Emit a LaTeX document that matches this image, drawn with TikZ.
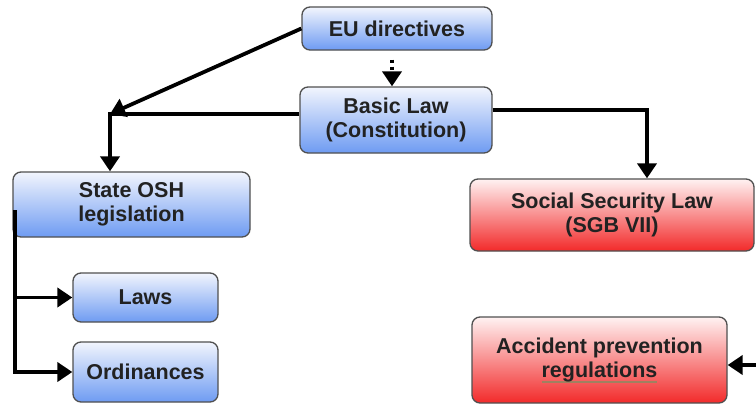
\documentclass[tikz,border=0pt]{standalone}
\usepackage{fontspec}
\setmainfont{Liberation Sans}
\usetikzlibrary{arrows.meta}
\definecolor{txtgray}{HTML}{222222}
\definecolor{boxline}{HTML}{505050}
\definecolor{bluelo}{HTML}{6E9BF2}
\definecolor{bluehi}{HTML}{F2F5FD}
\definecolor{redlo}{HTML}{F22A2A}
\definecolor{redhi}{HTML}{FFF2F2}
\definecolor{ulbrown}{HTML}{A08060}
\newlength\ulwd
\newcommand\spellul[1]{\settowidth\ulwd{#1}\rlap{\color{ulbrown}\rule[-5pt]{\ulwd}{1.3pt}}#1}
\tikzset{>={Triangle[length=15pt 0,width=19pt 0]}}
\tikzset{
  box/.style={draw=boxline, line width=1.3pt, rounded corners=8pt, align=center,
    inner sep=0pt, text=txtgray, font=\fontsize{21.5}{24.5}\selectfont\bfseries},
  bluebox/.style={box, top color=bluehi, bottom color=bluelo},
  redbox/.style={box, top color=redhi, bottom color=redlo},
  link/.style={line width=3.8pt},
  dotlink/.style={line width=3.8pt, dash pattern=on 3.5pt off 3.5pt}
}

\begin{document}
\begin{tikzpicture}[x=1pt,y=-1pt]
\useasboundingbox (0,0) rectangle (756,405);
\node[bluebox, minimum width=190pt, minimum height=43pt] (eu) at (397,28.5) {EU directives};
\node[bluebox, minimum width=192pt, minimum height=66pt] (basic) at (396,120) {Basic Law\\(Constitution)};
\node[bluebox, minimum width=237pt, minimum height=65pt] (state) at (131.5,204.5) {State OSH\\legislation};
\node[bluebox, minimum width=145pt, minimum height=49pt] (laws) at (145.5,297.5) {Laws};
\node[bluebox, minimum width=145pt, minimum height=60pt] (ord) at (145.5,372) {Ordinances};
\node[redbox, minimum width=284pt, minimum height=72pt] (social) at (612,215) {Social Security Law\\(SGB VII)};
\node[redbox, minimum width=255pt, minimum height=86pt] (accident) at (599.5,360) {Accident prevention\\\spellul{regulations}};

\coordinate (j) at (110,114);
\coordinate (k) at (647,110);
\coordinate (b) at (15,210);
\coordinate (r) at (756,365);

\draw[link,->] (eu.west) -- (j);
\draw[link,->] (basic.west |- j) -- (j) -- (j |- state.north);
\draw[link,->] (basic.east |- k) -- (k) -- (k |- social.north);
\draw[dotlink,->] ([xshift=-5pt,yshift=-9pt]eu.south) -- ([xshift=-4pt]basic.north);
\draw[link,->] (b) |- (laws.west);
\draw[link,->] (b) |- (ord.west);
\draw[link,->] (r) -- (accident.east |- r);
\end{tikzpicture}
\end{document}
